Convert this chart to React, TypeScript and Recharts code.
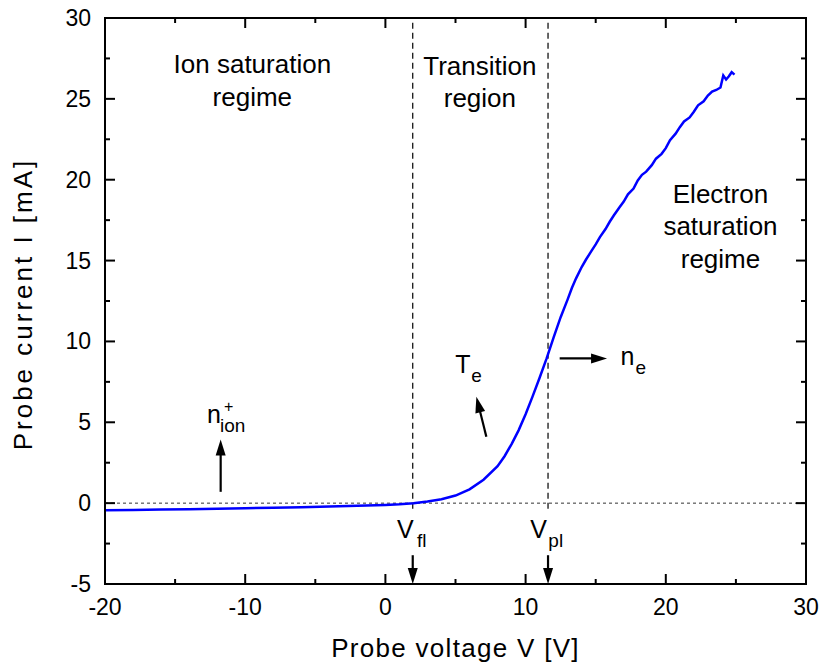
import React from 'react';
import { LineChart, Line, XAxis, YAxis, ReferenceLine, ReferenceDot } from 'recharts';

// probe characteristic
const voltage = [
  -20, -18, -16, -14, -12, -10, -8, -6, -4, -2, 0, 1, 2, 3, 4, 5, 6, 7, 8, 8.5, 9, 9.5, 10, 10.5, 11, 11.5,
  12, 12.5, 13, 13.3, 13.6, 14, 14.3, 14.7, 15, 15.3, 15.7, 16, 16.3, 16.7, 17, 17.3, 17.7, 18, 18.3, 18.6,
  19, 19.3, 19.7, 20, 20.3, 20.7, 21, 21.3, 21.7, 22, 22.3, 22.7, 23, 23.3, 23.6, 23.9, 24.1, 24.3, 24.5,
  24.7, 24.9,
];
const current = [
  -0.44, -0.42, -0.4, -0.37, -0.34, -0.31, -0.28, -0.25, -0.21, -0.16, -0.11, -0.07, -0.01, 0.1, 0.24,
  0.47, 0.85, 1.45, 2.28, 2.9, 3.65, 4.5, 5.5, 6.6, 7.75, 8.95, 10.25, 11.5, 12.6, 13.3, 13.9, 14.6,
  15.05, 15.6, 16.0, 16.45, 16.95, 17.4, 17.8, 18.3, 18.65, 19.1, 19.45, 19.95, 20.3, 20.5, 20.9,
  21.3, 21.6, 21.95, 22.45, 22.85, 23.25, 23.6, 23.85, 24.2, 24.6, 24.85, 25.2, 25.45, 25.55, 25.7,
  26.45, 26.2, 26.4, 26.65, 26.5,
];

const X_DOMAIN = [-20, 30];
const Y_DOMAIN = [-5, 30];
const xMajor = [-20, -10, 0, 10, 20, 30];
const xMinor = [-15, -5, 5, 15, 25];
const yMajor = [-5, 0, 5, 10, 15, 20, 25, 30];
const yMinor = [-2.5, 2.5, 7.5, 12.5, 17.5, 22.5, 27.5];

const V_FL = 1.95;
const V_PL = 11.6;

// region captions: centre x, first baseline y (data units)
const regionLabels = [
  { lines: ['Ion saturation', 'regime'], x: -9.49, y: 26.57 },
  { lines: ['Transition', 'region'], x: 6.74, y: 26.5 },
  { lines: ['Electron', 'saturation', 'regime'], x: 23.9, y: 18.57 },
];

// symbols: left/baseline of main letter
const symbols = [
  { main: 'n', sub: 'ion', sup: '+', x: -12.72, y: 4.93, subDx: 13, supDx: 17 },
  { main: 'T', sub: 'e', sup: '', x: 4.99, y: 8.02, subDx: 16, supDx: 0 },
  { main: 'n', sub: 'e', sup: '', x: 16.76, y: 8.53, subDx: 15, supDx: 0 },
  { main: 'V', sub: 'fl', sup: '', x: 0.83, y: -2.18, subDx: 20, supDx: 0 },
  { main: 'V', sub: 'pl', sup: '', x: 10.34, y: -2.16, subDx: 18, supDx: 0 },
];

// arrows: tail -> tip
const arrows = [
  { from: [-11.75, 0.7], to: [-11.75, 3.94] },
  { from: [7.2, 4.1], to: [6.49, 6.58] },
  { from: [12.43, 8.95], to: [15.81, 8.95] },
  { from: [V_FL, -3.22], to: [V_FL, -5] },
  { from: [V_PL, -3.22], to: [V_PL, -5] },
];

const data = voltage.map((v, i) => ({ v, i: current[i] }));

const FONT = '"Liberation Sans", Arial, Helvetica, sans-serif';

const makeTick = (side: string, majors: number[]) => (props: any) => {
  const { x, y, payload } = props;
  const v = payload.value;
  if (!majors.includes(v)) return <g />;
  if (side === 'bottom') {
    return (
      <text x={x} y={y + 31} textAnchor="middle" fontSize={23} fontFamily={FONT} fill="#000">
        {v}
      </text>
    );
  }
  return (
    <text x={x - 14} y={y + 8} textAnchor="end" fontSize={23} fontFamily={FONT} fill="#000">
      {v}
    </text>
  );
};

// Frame ticks: the shape gets the pixel corners of the plot (segment from the
// lower-left to the upper-right domain corner) and places every tick between them.
const FrameTicks = (props: any) => {
  const left = Math.min(props.x1, props.x2);
  const right = Math.max(props.x1, props.x2);
  const top = Math.min(props.y1, props.y2);
  const bottom = Math.max(props.y1, props.y2);
  const px = (v: number) => left + ((v - X_DOMAIN[0]) / (X_DOMAIN[1] - X_DOMAIN[0])) * (right - left);
  const py = (v: number) => bottom - ((v - Y_DOMAIN[0]) / (Y_DOMAIN[1] - Y_DOMAIN[0])) * (bottom - top);
  const marks: React.ReactNode[] = [];
  [...xMajor, ...xMinor].forEach((v) => {
    const len = xMajor.includes(v) ? 10 : 5;
    const x = px(v);
    marks.push(<line key={'b' + v} x1={x} y1={bottom} x2={x} y2={bottom - len} />);
    marks.push(<line key={'t' + v} x1={x} y1={top} x2={x} y2={top + len} />);
  });
  [...yMajor, ...yMinor].forEach((v) => {
    const len = yMajor.includes(v) ? 10 : 5;
    const y = py(v);
    marks.push(<line key={'l' + v} x1={left} y1={y} x2={left + len} y2={y} />);
    marks.push(<line key={'r' + v} x1={right} y1={y} x2={right - len} y2={y} />);
  });
  return (
    <g stroke="#000" strokeWidth={2} fill="none">
      <rect x={left} y={top} width={right - left} height={bottom - top} />
      {marks}
    </g>
  );
};

const Arrow = (props: any) => {
  const { x1, y1, x2, y2 } = props;
  const dx = x2 - x1;
  const dy = y2 - y1;
  const L = Math.hypot(dx, dy) || 1;
  const ux = dx / L;
  const uy = dy / L;
  const hl = 16;
  const hw = 5;
  const bx = x2 - ux * hl;
  const by = y2 - uy * hl;
  return (
    <g>
      <line x1={x1} y1={y1} x2={bx + ux * 2} y2={by + uy * 2} stroke="#000" strokeWidth={2.2} />
      <polygon points={`${x2},${y2} ${bx - uy * hw},${by + ux * hw} ${bx + uy * hw},${by - ux * hw}`} fill="#000" />
    </g>
  );
};

const regionShape = (lines: string[]) => (props: any) => (
  <text x={props.cx} y={props.cy} textAnchor="middle" fontSize={26} fontFamily={FONT} fill="#000">
    {lines.map((l, k) => (
      <tspan key={k} x={props.cx} dy={k === 0 ? 0 : 32.5}>
        {l}
      </tspan>
    ))}
  </text>
);

const symbolShape = (s: any) => (props: any) => (
  <g fontFamily={FONT} fill="#000">
    <text x={props.cx} y={props.cy} fontSize={25}>{s.main}</text>
    {s.sup && <text x={props.cx + s.supDx} y={props.cy - 11} fontSize={16}>{s.sup}</text>}
    <text x={props.cx + s.subDx} y={props.cy + 8.5} fontSize={19}>{s.sub}</text>
  </g>
);

export default function App() {
  return (
    <div style={{ position: 'absolute', left: 0, top: 0, background: '#fff' }}>
      <LineChart width={821} height={663} data={data} margin={{ top: 18, right: 15, bottom: 0, left: 0 }}>
        <XAxis
          dataKey="v"
          type="number"
          domain={X_DOMAIN}
          ticks={xMajor}
          interval={0}
          allowDataOverflow
          height={79}
          tickSize={0}
          tickMargin={0}
          tickLine={false}
          axisLine={false}
          tick={makeTick('bottom', xMajor)}
          label={{
            content: (p: any) => (
              <text
                x={p.viewBox.x + p.viewBox.width / 2}
                y={p.viewBox.y + 73}
                textAnchor="middle"
                fontSize={26}
                letterSpacing={1.3}
                fontFamily={FONT}
                fill="#000"
              >
                Probe voltage V [V]
              </text>
            ),
          }}
        />
        <YAxis
          type="number"
          domain={Y_DOMAIN}
          ticks={yMajor}
          interval={0}
          allowDataOverflow
          width={105}
          tickSize={0}
          tickMargin={0}
          tickLine={false}
          axisLine={false}
          tick={makeTick('left', yMajor)}
          label={{
            content: () => (
              <text
                x={32}
                y={304}
                transform="rotate(-90, 32, 304)"
                textAnchor="middle"
                fontSize={26}
                letterSpacing={3}
                fontFamily={FONT}
                fill="#000"
              >
                Probe current I [mA]
              </text>
            ),
          }}
        />
        <ReferenceLine y={0} stroke="#333" strokeWidth={1} strokeDasharray="3 3" />
        <ReferenceLine segment={[{ x: V_FL, y: -0.35 }, { x: V_FL, y: 30 }]} stroke="#000" strokeWidth={1.2} strokeDasharray="6 4" />
        <ReferenceLine segment={[{ x: V_PL, y: -0.35 }, { x: V_PL, y: 30 }]} stroke="#000" strokeWidth={1.2} strokeDasharray="6 4" />
        <Line dataKey="i" type="linear" stroke="#0000ff" strokeWidth={2.5} dot={false} isAnimationActive={false} />
        <ReferenceLine
          segment={[{ x: X_DOMAIN[0], y: Y_DOMAIN[0] }, { x: X_DOMAIN[1], y: Y_DOMAIN[1] }]}
          shape={FrameTicks}
        />
        {arrows.map((a, k) => (
          <ReferenceLine
            key={'a' + k}
            segment={[{ x: a.from[0], y: a.from[1] }, { x: a.to[0], y: a.to[1] }]}
            shape={Arrow}
          />
        ))}
        {regionLabels.map((r, k) => (
          <ReferenceDot key={'r' + k} x={r.x} y={r.y} r={0} shape={regionShape(r.lines)} />
        ))}
        {symbols.map((s, k) => (
          <ReferenceDot key={'s' + k} x={s.x} y={s.y} r={0} shape={symbolShape(s)} />
        ))}
      </LineChart>
    </div>
  );
}
